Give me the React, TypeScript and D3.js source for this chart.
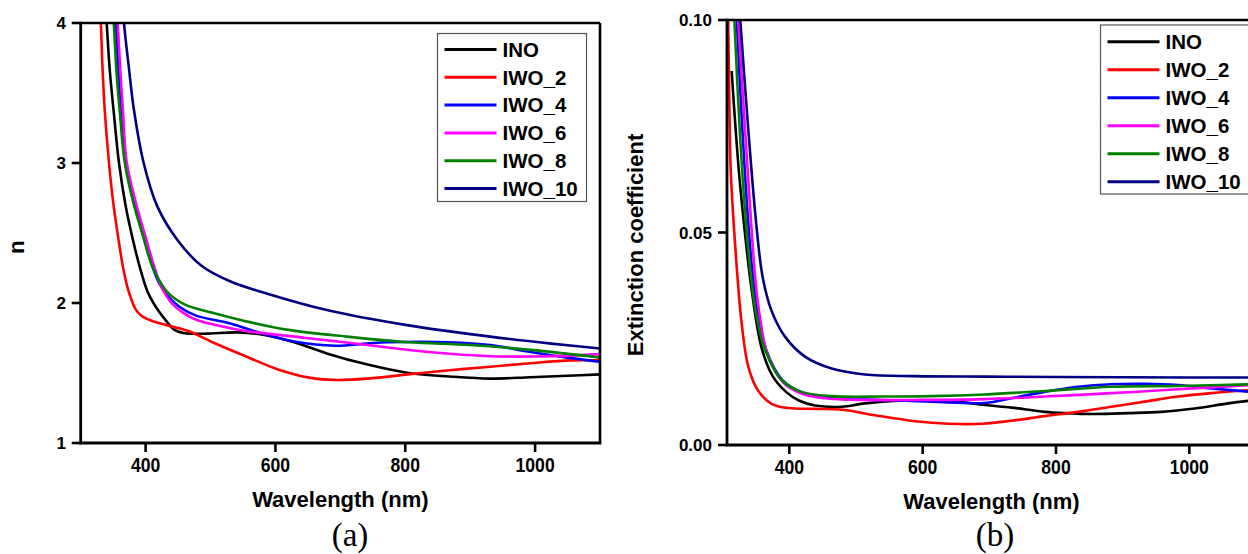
import React from "react";
import * as d3 from "d3";

type Pt = [number, number];

// ---------- Panel (a): refractive index n ----------
const nINO: Pt[] = [
  [336, 4.3], [340, 4.0], [345, 3.65], [351, 3.36], [359, 3.0], [369, 2.7], [380, 2.46], [392, 2.24],
  [403, 2.08], [412, 2.0], [422, 1.93], [432, 1.87], [444, 1.81], [458, 1.785], [475, 1.78],
  [500, 1.782], [541, 1.79], [585, 1.77], [629, 1.72], [679, 1.64], [742, 1.56], [805, 1.50],
  [868, 1.475], [931, 1.46], [993, 1.47], [1050, 1.48], [1100, 1.49],
];
const nIWO2: Pt[] = [
  [327, 4.3], [331, 4.0], [333.5, 3.69], [337, 3.38], [343.6, 3.0], [350, 2.72], [358, 2.46], [365, 2.26],
  [371, 2.13], [377, 2.04], [384, 1.96], [393, 1.91], [408, 1.875], [434, 1.84], [466, 1.80],
  [503, 1.72], [554, 1.62], [604, 1.525], [654, 1.465], [692, 1.45], [742, 1.46], [805, 1.49],
  [868, 1.52], [931, 1.545], [993, 1.57], [1055, 1.59], [1100, 1.59],
];
const nIWO4: Pt[] = [
  [350, 4.3], [354, 4.0], [358, 3.66], [362, 3.38], [369, 3.0], [383, 2.7], [397, 2.47], [409, 2.28],
  [420, 2.15], [432, 2.06], [453, 1.97], [478, 1.91], [529, 1.855], [585, 1.775], [629, 1.725],
  [692, 1.695], [740, 1.71], [773, 1.72], [868, 1.72], [931, 1.70], [993, 1.65], [1050, 1.61], [1100, 1.58],
];
const nIWO6: Pt[] = [
  [353, 4.3], [357, 4.0], [361, 3.66], [365, 3.38], [371, 3.0], [386, 2.7], [400, 2.47], [412, 2.28],
  [424, 2.12], [440, 2.0], [458, 1.93], [478, 1.88], [520, 1.83], [554, 1.80], [648, 1.75], [742, 1.70],
  [836, 1.65], [931, 1.62], [1025, 1.62], [1100, 1.635],
];
const nIWO8: Pt[] = [
  [347, 4.3], [351, 4.0], [355, 3.66], [360, 3.38], [368, 3.0], [382, 2.7], [396, 2.48], [408, 2.29],
  [420, 2.17], [435, 2.07], [460, 1.99], [503, 1.93], [554, 1.87], [617, 1.81], [710, 1.76],
  [805, 1.72], [899, 1.70], [993, 1.665], [1100, 1.61],
];
const nIWO10: Pt[] = [
  [363, 4.3], [366.7, 4.0], [374, 3.69], [382, 3.38], [397, 3.0], [418, 2.69], [449, 2.45],
  [485, 2.27], [530, 2.155], [585, 2.07], [679, 1.95], [805, 1.84], [931, 1.76], [1025, 1.71],
  [1100, 1.675],
];

// ---------- Panel (b): extinction coefficient k ----------
const kINO: Pt[] = [
  [313.5, 0.088], [324, 0.065], [334, 0.049], [343.5, 0.0365], [358.5, 0.0228], [375, 0.0162],
  [395, 0.0125], [415, 0.0104], [438.5, 0.0093], [478.5, 0.009], [513.5, 0.0098], [563.5, 0.0104],
  [638.5, 0.0104], [693.5, 0.0094], [733, 0.0088], [783, 0.0078], [813, 0.0075], [858, 0.0073],
  [908, 0.0075], [958, 0.0078], [1008, 0.0086], [1058, 0.0098], [1100, 0.0106],
];
const kIWO2: Pt[] = [
  [308, 0.102], [310, 0.081], [312, 0.065], [317, 0.051], [322, 0.04], [328.5, 0.0286],
  [338.5, 0.0184], [353.5, 0.0127], [373.5, 0.0097], [398.5, 0.0087], [438.5, 0.0085],
  [480, 0.0083], [528.5, 0.007], [588.5, 0.0056], [638.5, 0.005], [690, 0.005],
  [733, 0.0057], [783, 0.0068], [833, 0.0078], [883, 0.009], [933, 0.0102], [983, 0.0114],
  [1033, 0.0122], [1100, 0.013],
];
const kIWO4: Pt[] = [
  [320.5, 0.102], [330, 0.073], [339.5, 0.05], [350, 0.0335], [365, 0.0225], [390, 0.0152],
  [420, 0.0123], [463.5, 0.011], [538.5, 0.0106], [613.5, 0.0102], [693.5, 0.0099],
  [733, 0.011], [783, 0.0125], [833, 0.0137], [883, 0.0143], [933, 0.0144], [983, 0.0141],
  [1033, 0.0133], [1100, 0.0124],
];
const kIWO6: Pt[] = [
  [322.5, 0.102], [339, 0.061], [349, 0.039], [355, 0.031], [368, 0.021], [392, 0.0145],
  [420, 0.012], [453.5, 0.011], [513.5, 0.0106], [588.5, 0.0106], [693.5, 0.0108],
  [783, 0.0114], [883, 0.0122], [983, 0.0131], [1100, 0.0142],
];
const kIWO8: Pt[] = [
  [317, 0.102], [326, 0.073], [336, 0.05], [343, 0.039], [350, 0.031], [363.5, 0.0224],
  [388.5, 0.0153], [418.5, 0.0125], [463.5, 0.0115], [538.5, 0.0114], [613.5, 0.0115],
  [693.5, 0.0119], [783, 0.0127], [883, 0.0137], [983, 0.0139], [1100, 0.0143],
];
const kIWO10: Pt[] = [
  [325.5, 0.102], [339, 0.073], [351, 0.051], [360, 0.0395], [373.5, 0.0315], [393.5, 0.0255],
  [423.5, 0.0208], [463.5, 0.018], [513.5, 0.0166], [588.5, 0.0162], [693.5, 0.0161],
  [800, 0.016], [1000, 0.0159], [1100, 0.0159],
];

const seriesNames = ["INO", "IWO_2", "IWO_4", "IWO_6", "IWO_8", "IWO_10"];
const seriesColors = ["#000000", "#ff0000", "#0000ff", "#ff00ff", "#008000", "#000080"];
const nSeries = [nINO, nIWO2, nIWO4, nIWO6, nIWO8, nIWO10];
const kSeries = [kINO, kIWO2, kIWO4, kIWO6, kIWO8, kIWO10];

const xTicks = [400, 600, 800, 1000];
const nTicks = [1, 2, 3, 4];
const kTicks = [0, 0.05, 0.1];

const SANS = "'Liberation Sans', Arial, Helvetica, sans-serif";
const SERIF = "'Liberation Serif', 'Times New Roman', serif";

type PanelProps = {
  id: string;
  left: number; right: number; top: number; bottom: number;
  xDomain: [number, number];
  yDomain: [number, number];
  yTicks: number[];
  yFmt: (v: number) => string;
  data: Pt[][];
  yLabel: string;
  yLabelX: number; yLabelY: number; yLabelSize: number;
  tag: string; tagX: number;
  legend: { x: number; y: number; w: number; h: number; row0: number; step: number };
  labelRight: number;
};

function Panel(p: PanelProps) {
  const x = d3.scaleLinear().domain(p.xDomain).range([p.left, p.right]);
  const y = d3.scaleLinear().domain(p.yDomain).range([p.bottom, p.top]);
  const line = d3.line<Pt>().x((d) => x(d[0])).y((d) => y(d[1])).curve(d3.curveCatmullRom.alpha(0.5));
  const cx = (p.left + p.right) / 2;
  return (
    <g>
      <defs>
        <clipPath id={p.id}>
          <rect x={p.left} y={p.top} width={p.right - p.left} height={p.bottom - p.top} />
        </clipPath>
      </defs>
      <g clipPath={`url(#${p.id})`}>
        {p.data.map((d, i) => (
          <path key={i} d={line(d) || ""} fill="none" stroke={seriesColors[i]} strokeWidth={2.6} strokeLinejoin="round" />
        ))}
      </g>
      {/* frame */}
      <line x1={p.left} x2={p.right} y1={p.top} y2={p.top} stroke="#000" strokeWidth={2.6} />
      <line x1={p.right} x2={p.right} y1={p.top} y2={p.bottom} stroke="#000" strokeWidth={2.6} />
      <line x1={p.left} x2={p.left} y1={p.top - 1.3} y2={p.bottom + 1.3} stroke="#000" strokeWidth={2.8} />
      <line x1={p.left - 1.3} x2={p.right + 1.3} y1={p.bottom} y2={p.bottom} stroke="#000" strokeWidth={2.8} />
      {/* y ticks */}
      {p.yTicks.map((t) => (
        <g key={t}>
          <line x1={p.left - 9} x2={p.left} y1={y(t)} y2={y(t)} stroke="#000" strokeWidth={2.6} />
          <text x={p.labelRight} y={y(t)} dy="0.36em" textAnchor="end" fontFamily={SANS} fontWeight="bold" fontSize={17}>
            {p.yFmt(t)}
          </text>
        </g>
      ))}
      {/* x ticks */}
      {xTicks.map((t) => (
        <g key={t}>
          <line x1={x(t)} x2={x(t)} y1={p.bottom} y2={p.bottom + 9} stroke="#000" strokeWidth={2.6} />
          <text transform={`translate(${x(t)},${p.bottom + 29}) scale(0.88,1)`} textAnchor="middle" fontFamily={SANS} fontWeight="bold" fontSize={20}>
            {t}
          </text>
        </g>
      ))}
      <text x={cx} y={p.bottom + 64} textAnchor="middle" fontFamily={SANS} fontWeight="bold" fontSize={22}>
        Wavelength (nm)
      </text>
      <text transform={`translate(${p.yLabelX},${p.yLabelY}) rotate(-90)`} textAnchor="middle" fontFamily={SANS} fontWeight="bold" fontSize={p.yLabelSize}>
        {p.yLabel}
      </text>
      <text x={p.tagX} y={546} textAnchor="middle" fontFamily={SERIF} fontSize={33}>
        {p.tag}
      </text>
      {/* legend */}
      <rect x={p.legend.x} y={p.legend.y} width={p.legend.w} height={p.legend.h} fill="#fff" stroke="#555" strokeWidth={1.2} />
      {seriesNames.map((name, i) => {
        const ry = p.legend.row0 + i * p.legend.step;
        return (
          <g key={name}>
            <line x1={p.legend.x + 7} x2={p.legend.x + 59} y1={ry} y2={ry} stroke={seriesColors[i]} strokeWidth={3} />
            <text x={p.legend.x + 65} y={ry} dy="0.36em" fontFamily={SANS} fontWeight="bold" fontSize={20.5}>
              {name}
            </text>
          </g>
        );
      })}
    </g>
  );
}

export default function App() {
  return (
    <svg width={1248} height={554} style={{ position: "absolute", left: 0, top: 0, background: "#fff" }}>
      <rect x={0} y={0} width={1248} height={554} fill="#fff" />
      <Panel
        id="clipA"
        left={80.7} right={600} top={23} bottom={443}
        xDomain={[300, 1100]} yDomain={[1, 4]}
        yTicks={nTicks} yFmt={(v) => String(v)}
        data={nSeries}
        yLabel="n" yLabelX={24} yLabelY={247} yLabelSize={22.5}
        tag="(a)" tagX={350}
        legend={{ x: 437.5, y: 33.5, w: 149, h: 168, row0: 49.5, step: 27.8 }}
        labelRight={66}
      />
      <Panel
        id="clipB"
        left={727} right={1256} top={20} bottom={445}
        xDomain={[306.5, 1100]} yDomain={[0, 0.1]}
        yTicks={kTicks} yFmt={(v) => v.toFixed(2)}
        data={kSeries}
        yLabel="Extinction coefficient" yLabelX={643} yLabelY={245} yLabelSize={22}
        tag="(b)" tagX={995}
        legend={{ x: 1100.5, y: 25, w: 160, h: 169, row0: 41.7, step: 28 }}
        labelRight={712}
      />
    </svg>
  );
}
